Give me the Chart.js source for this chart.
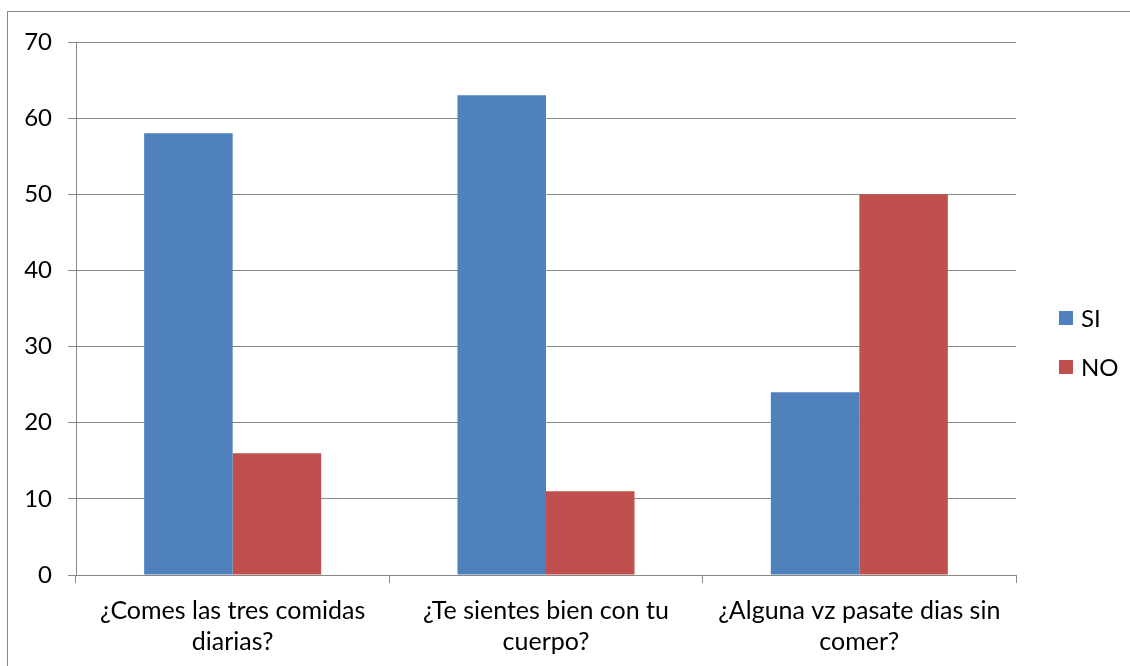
<!DOCTYPE html>
<html>
<head>
<meta charset="utf-8">
<script src="https://cdn.jsdelivr.net/npm/chart.js@4"></script>
<style>
  html, body { margin: 0; padding: 0; background: #fff; }
  #frame { position: absolute; left: 7px; top: 11px; width: 1130px; height: 666px;
           border-left: 1px solid #8a8a8a; border-top: 1px solid #8a8a8a; }
  #wrap { position: absolute; left: 0; top: 0; width: 1130px; height: 666px; }
</style>
</head>
<body>
<div id="frame"></div>
<div id="wrap"><canvas id="myChart" width="1130" height="666"></canvas></div>
<script>
const categories = [
  ["¿Comes las tres comidas", "diarias?"],
  ["¿Te sientes bien con tu", "cuerpo?"],
  ["¿Alguna vz pasate dias sin", "comer?"]
];
const siValues = [58, 63, 24];
const noValues = [16, 11, 50];
const seriesNames = ["SI", "NO"];
const seriesColors = ["#4F81BD", "#C0504D"];

const gridColor = "#878787";
const fontFamily = "Lato, 'Liberation Sans', sans-serif";

// simple legend on the right, like the spreadsheet one
const sideLegend = {
  id: 'side_legend',
  afterDraw: (chart) => {
    const {ctx} = chart;
    ctx.save();
    ctx.font = "24px " + fontFamily;
    ctx.textBaseline = "middle";
    chart.data.datasets.forEach((ds, i) => {
      const y = 318 + i * 49;
      ctx.fillStyle = ds.backgroundColor;
      ctx.fillRect(1059, y - 7, 14, 14);
      ctx.fillStyle = "#000";
      ctx.fillText(ds.label, 1081, y + 1);
    });
    ctx.restore();
  }
};

const ctx = document.getElementById("myChart").getContext("2d");
new Chart(ctx, {
  type: 'bar',
  data: {
    labels: categories,
    datasets: [
      { label: seriesNames[0], data: siValues, backgroundColor: seriesColors[0] },
      { label: seriesNames[1], data: noValues, backgroundColor: seriesColors[1] }
    ]
  },
  options: {
    responsive: false,
    animation: false,
    layout: { padding: { top: 42, right: 114, left: 0, bottom: 0 } },
    plugins: { legend: { display: false }, tooltip: { enabled: false } },
    datasets: { bar: { categoryPercentage: 0.565, barPercentage: 1.0 } },
    scales: {
      x: {
        offset: true,
        grid: { offset: true, drawOnChartArea: false, drawTicks: true, tickLength: 8, color: gridColor },
        border: { display: true, color: gridColor, width: 1 },
        ticks: { color: "#000", padding: 12, maxRotation: 0, autoSkip: false,
                 font: { family: fontFamily, size: 25, lineHeight: 1.24 } },
        afterFit: (scale) => { scale.height = 91; }
      },
      y: {
        min: 0, max: 70,
        ticks: { stepSize: 10, color: "#000", padding: 16,
                 font: { family: fontFamily, size: 24 } },
        grid: { color: gridColor, tickLength: 8 },
        border: { display: true, color: gridColor, width: 1 },
        afterFit: (scale) => { scale.width = 76; }
      }
    }
  },
  plugins: [sideLegend]
});
</script>
</body>
</html>
